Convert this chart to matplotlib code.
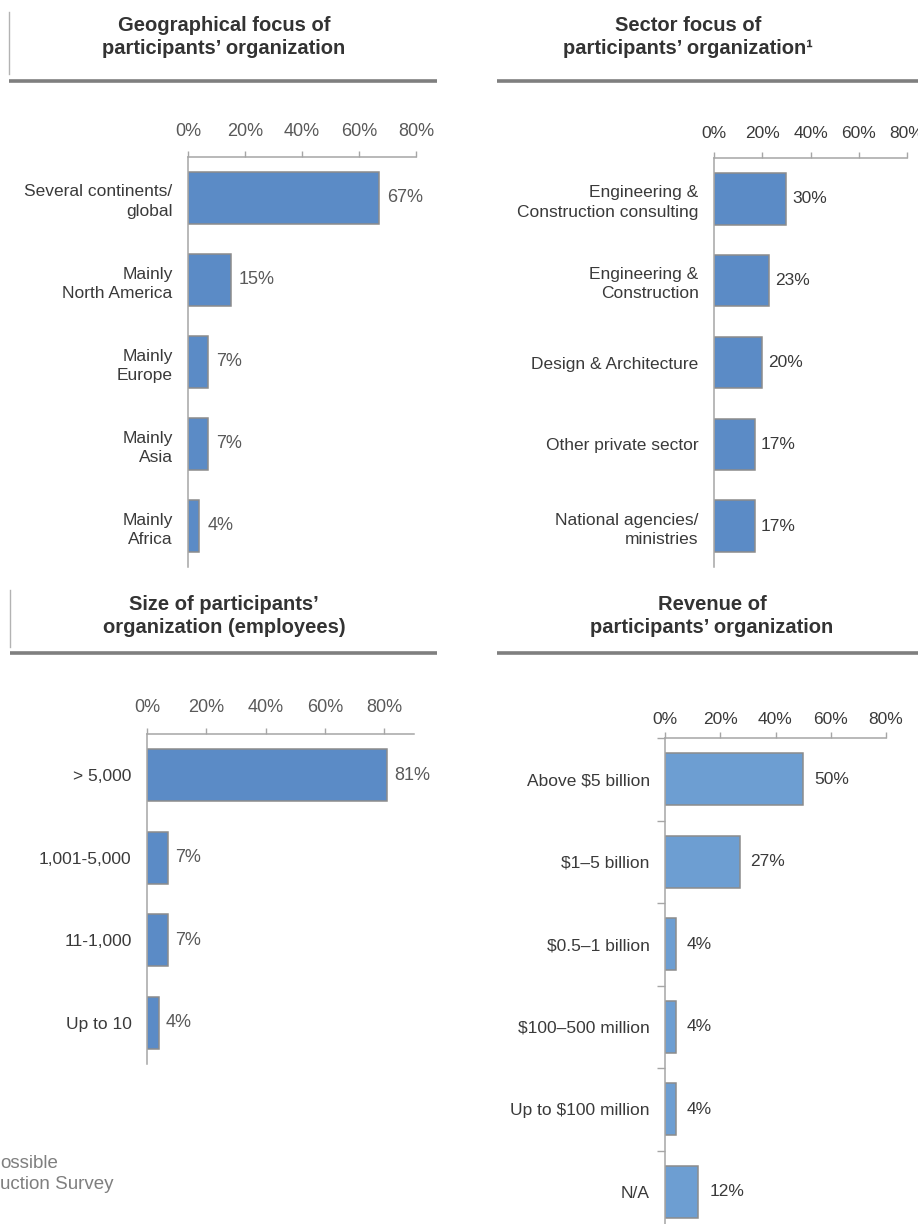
import matplotlib
matplotlib.use('Agg')
import matplotlib.pyplot as plt
from matplotlib.lines import Line2D

geo_labels = ['Several continents/\nglobal', 'Mainly\nNorth America', 'Mainly\nEurope',
              'Mainly\nAsia', 'Mainly\nAfrica']
geo_values = [67, 15, 7, 7, 4]

sector_labels = ['Engineering &\nConstruction consulting', 'Engineering &\nConstruction',
                 'Design & Architecture', 'Other private sector', 'National agencies/\nministries']
sector_values = [30, 23, 20, 17, 17]

size_labels = ['> 5,000', '1,001-5,000', '11-1,000', 'Up to 10']
size_values = [81, 7, 7, 4]

rev_labels = ['Above $5 billion', '$1–5 billion', '$0.5–1 billion', '$100–500 million',
              'Up to $100 million', 'N/A']
rev_values = [50, 27, 4, 4, 4, 12]

ticks = [0, 20, 40, 60, 80]

W, H = 918, 1224
plt.rcParams['font.family'] = ['Liberation Sans', 'DejaVu Sans']
fig = plt.figure(figsize=(W / 100, H / 100), dpi=100)


def box(l, t, r, b):
    return [l / W, 1 - b / H, (r - l) / W, (b - t) / H]


def panel(rect, labels, values, xmax, color, fs, tickcolor, valcolor, tickpad, valoff, seps=False):
    ax = fig.add_axes(rect)
    ax.set_facecolor('none')
    y = list(range(len(values)))
    ax.barh(y, values, height=0.63, color=color, edgecolor='#8c8c8c', linewidth=1.1)
    ax.set_ylim(len(values) - 0.5, -0.5)
    ax.set_xlim(0, xmax)
    ax.set_xticks(ticks)
    ax.set_xticklabels([f'{t}%' for t in ticks])
    ax.xaxis.tick_top()
    ax.tick_params(axis='x', direction='out', length=4, width=1, color='#a6a6a6',
                   pad=tickpad, labelsize=fs, labelcolor=tickcolor)
    ax.set_yticks(y)
    ax.set_yticklabels(labels, fontsize=12.5, color='#3a3a3a')
    for lab in ax.get_yticklabels():
        lab.set_linespacing(1.35)
    ax.tick_params(axis='y', which='major', length=0, pad=11)
    if seps:
        ax.set_yticks([i - 0.5 for i in range(len(values) + 1)], minor=True)
        ax.tick_params(axis='y', which='minor', length=6, width=1, color='#a6a6a6')
    for s in ['right', 'bottom']:
        ax.spines[s].set_visible(False)
    for s in ['top', 'left']:
        ax.spines[s].set_color('#a6a6a6')
        ax.spines[s].set_linewidth(1.1)
    for yi, v in zip(y, values):
        ax.annotate(f'{v}%', (v, yi), xytext=(valoff, 0), textcoords='offset pixels',
                    va='center', ha='left', fontsize=fs, color=valcolor)
    return ax


panel(box(188, 157, 416, 567), geo_labels, geo_values, 80, '#5b8bc6', 13, '#595959', '#595959', 8, 8)
panel(box(714, 158, 907, 567), sector_labels, sector_values, 80, '#5b8bc6', 12.5, '#3a3a3a', '#3a3a3a', 8, 6)
panel(box(147, 734, 414, 1064), size_labels, size_values, 90, '#5b8bc6', 13, '#595959', '#595959', 9, 7)
panel(box(665, 738, 886, 1233), rev_labels, rev_values, 80, '#6d9ed2', 12.5, '#3a3a3a', '#3a3a3a', 4, 11, seps=True)


def header(x1, x2, y, text, cx, cy, left_line=None):
    fig.add_artist(Line2D([x1 / W, x2 / W], [1 - y / H, 1 - y / H], transform=fig.transFigure,
                          color='#7f7f7f', lw=2.6, solid_capstyle='butt'))
    if left_line:
        fig.add_artist(Line2D([x1 / W, x1 / W], [1 - left_line[0] / H, 1 - left_line[1] / H],
                              transform=fig.transFigure, color='#b3b3b3', lw=1))
    fig.text(cx / W, 1 - cy / H, text, ha='center', va='center', fontsize=14.5,
             fontweight='bold', color='#333333', linespacing=1.3)


header(9, 437, 81, 'Geographical focus of\nparticipants’ organization', 224, 37, (12, 74))
header(497, 918, 81, 'Sector focus of\nparticipants’ organization¹', 688, 37)
header(10, 437, 653, 'Size of participants’\norganization (employees)', 224, 616, (590, 647))
header(497, 918, 653, 'Revenue of\nparticipants’ organization', 712, 616)

fig.text(0, 1 - 1174 / H, 'ossible\nuction Survey', ha='left', va='center', fontsize=13.5,
         color='#7f7f7f', linespacing=1.3)

fig.savefig('out.png', dpi=100)
